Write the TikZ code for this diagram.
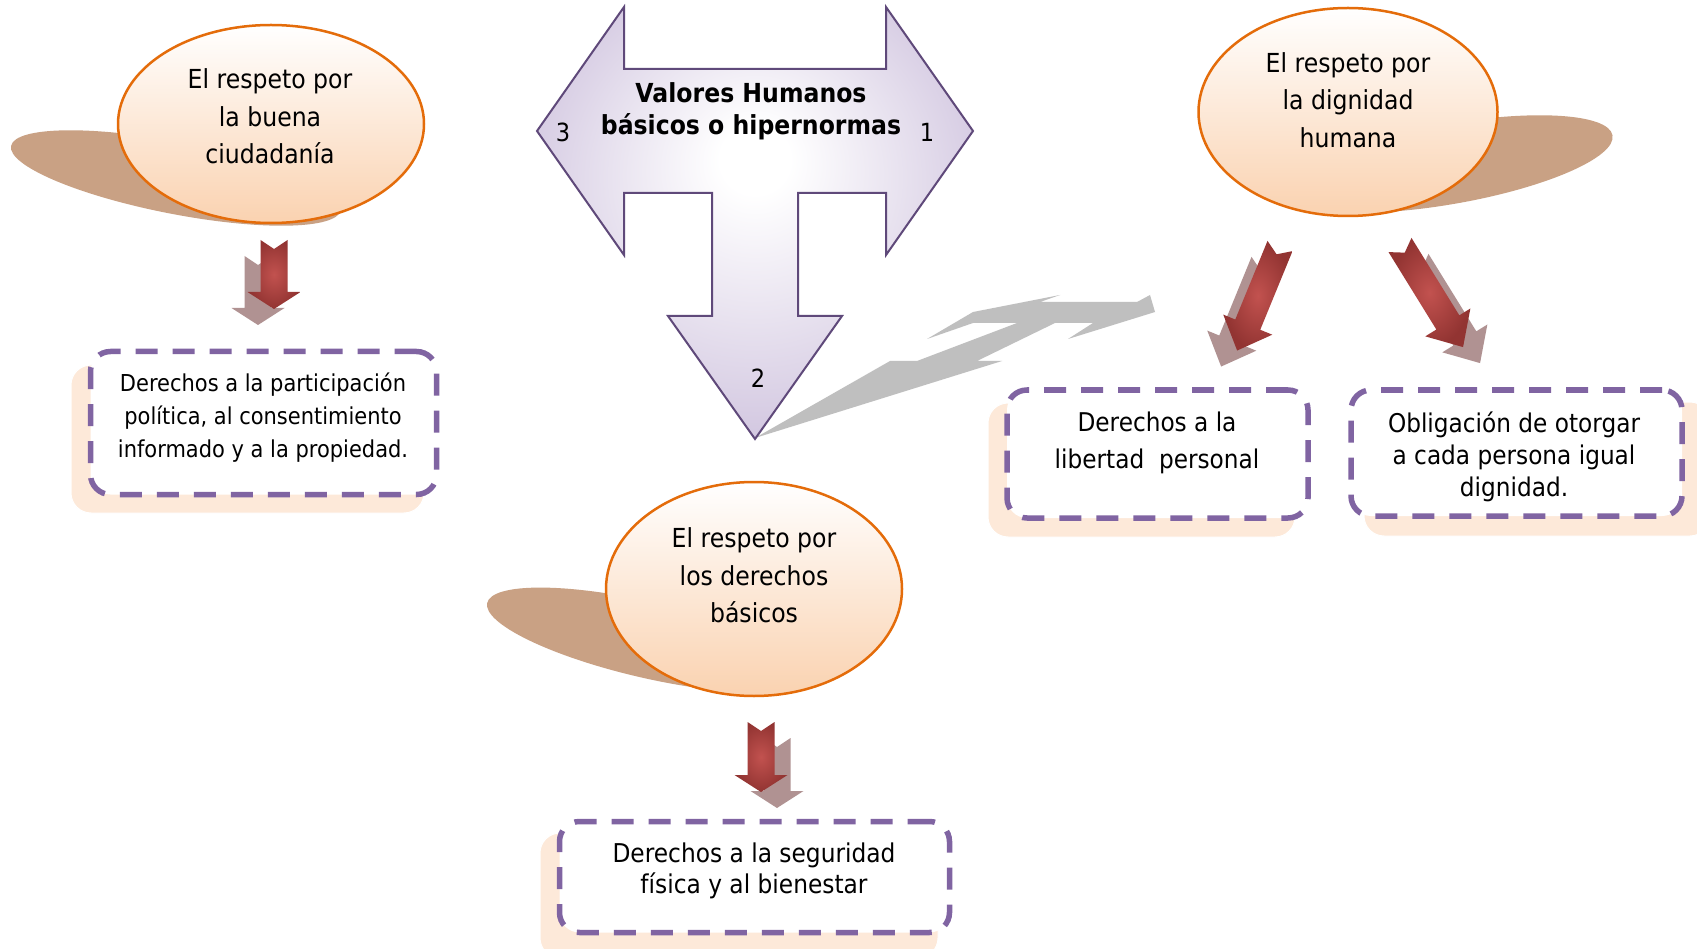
\documentclass[tikz,border=0pt]{standalone}
\usepackage{fontspec}
\setmainfont{DejaVu Sans}[FakeStretch=0.9]
\usetikzlibrary{shapes.geometric}
\definecolor{orangeB}{RGB}{228,108,10}
\definecolor{peach}{RGB}{250,210,176}
\definecolor{shbrown}{RGB}{201,161,132}
\definecolor{purpleD}{RGB}{128,100,162}
\definecolor{boxsh}{RGB}{253,233,217}
\definecolor{tborder}{RGB}{95,73,122}
\definecolor{lav}{RGB}{204,191,220}
\definecolor{redL}{RGB}{194,82,79}
\definecolor{redD}{RGB}{146,52,50}
\definecolor{redsh}{RGB}{176,146,146}
\definecolor{bolt}{RGB}{191,191,191}
\pgfdeclareradialshading{tshade}{\pgfpoint{0bp}{8bp}}{color(0bp)=(white); color(4bp)=(white); color(32bp)=(lav); color(50bp)=(lav)}
% #1 x, #2 y (tail centre), #3 angle, #4 length, #5 head length, #6 style
\newcommand{\redarr}[6]{%
  \begin{scope}[shift={(#1,#2)}, rotate=#3]
    \path[#6] (0,-13.5) -- ({#4-#5},-13.5) -- ({#4-#5},-26.5) -- (#4,0) -- ({#4-#5},26.5) -- ({#4-#5},13.5) -- (0,13.5) -- (9,0) -- cycle;
  \end{scope}}
\begin{document}
\begin{tikzpicture}[x=1pt,y=-1pt,
  ell/.style={ellipse, draw=orangeB, line width=2.5pt, top color=white, bottom color=peach, inner sep=0pt},
  etext/.style={align=center, inner sep=0pt, font=\fontsize{26.2}{37.5}\selectfont},
  dbox/.style={draw=purpleD, fill=white, line width=5.5pt, dash pattern=on 22pt off 15pt, rounded corners=20pt, inner sep=0pt},
  bsh/.style={fill=boxsh, draw=white, line width=1pt, rounded corners=20pt},
  shad/.style={fill=shbrown},
  arrsh/.style={fill=redsh},
  arrmain/.style={inner color=redL, outer color=redD},
  num/.style={inner sep=0pt, font=\fontsize{25}{30}\selectfont}]
\useasboundingbox (0,0) rectangle (1697,949);
\fill[white] (0,0) rectangle (1697,949);

% ---- ellipse shadows
\fill[shad, rotate around={-11:(176,178)}] (176,178) ellipse [x radius=168pt, y radius=36pt];
\fill[shad, rotate around={10:(1450,164)}] (1450,164) ellipse [x radius=165pt, y radius=40pt];
\fill[shad, rotate around={-13:(648,640)}] (648,640) ellipse [x radius=165pt, y radius=38pt];

% ---- ellipses
\node[ell, minimum width=306pt, minimum height=198pt] (e1) at (271,124) {};
\node[ell, minimum width=299pt, minimum height=208pt] (e2) at (1348,112) {};
\node[ell, minimum width=296pt, minimum height=214pt] (e3) at (754,589) {};
\node[etext] (t1) at (270,116.5) {El respeto por\\la buena\\ciudadanía};
\node[etext] (t2) at (1348,100) {El respeto por\\la dignidad\\humana};
\node[etext] (t3) at (754,575.5) {El respeto por\\los derechos\\básicos};

% ---- lightning shadow
\fill[bolt] (755,438) -- (890,361) -- (917,361) -- (1017,323) -- (973,323) -- (927,339) -- (973,312) -- (1060,295) -- (1040,302) -- (1137,302) -- (1150,295) -- (1155,312) -- (1068,339) -- (1093,323) -- (1055,323) -- (977,361) -- (1002,361) -- cycle;

% ---- T arrow
\shadedraw[shading=tshade, draw=tborder, line width=2pt, line join=miter]
  (537,131) -- (624,7) -- (624,69) -- (886,69) -- (886,7) -- (973,131) -- (886,255) -- (886,193) -- (798,193) -- (798,316) -- (842,316) -- (755,439) -- (668,316) -- (712,316) -- (712,193) -- (624,193) -- (624,255) -- cycle;
\node[align=center, inner sep=0pt, font=\bfseries\fontsize{26.2}{32}\selectfont] (title) at (751,111) {Valores Humanos\\básicos o hipernormas};
\node[num] (n3) at (563,132) {3};
\node[num] (n1) at (927,132) {1};
\node[num] (n2) at (758,378) {2};

% ---- red block arrows
\redarr{258}{256}{-90}{69}{17}{arrsh}
\redarr{274}{240}{-90}{69}{17}{arrmain}
\redarr{777}{738}{-90}{70}{17}{arrsh}
\redarr{761}{722}{-90}{70}{17}{arrmain}
\redarr{1264}{262}{-112.3}{113}{28}{arrsh}
\redarr{1280}{246}{-112.3}{113}{28}{arrmain}
\redarr{1417}{261}{-58.3}{120}{29}{arrsh}
\redarr{1400}{245}{-58.3}{120}{29}{arrmain}

% ---- box shadows
\fill[bsh] (71,365) rectangle (424,513);
\fill[bsh] (540,833) rectangle (938,958);
\fill[bsh] (988,403) rectangle (1295,537);
\fill[bsh] (1364,402) rectangle (1710,536);

% ---- dashed boxes
\node[dbox, minimum width=346pt, minimum height=143pt] (b1) at (263.5,423) {};
\node[dbox, minimum width=390pt, minimum height=111pt] (b2) at (754.5,877) {};
\node[dbox, minimum width=301pt, minimum height=128pt] (b3) at (1157.5,454) {};
\node[dbox, minimum width=331pt, minimum height=126pt] (b4) at (1516.5,453) {};

\node[align=center, inner sep=0pt, font=\fontsize{23.3}{33}\selectfont] (bt1) at (263,417.5) {Derechos a la participación\\política, al consentimiento\\informado y a la propiedad.};
\node[align=center, inner sep=0pt, font=\fontsize{25.9}{31.5}\selectfont] (bt2) at (754,871) {Derechos a la seguridad\\física y al bienestar};
\node[align=center, inner sep=0pt, font=\fontsize{25.8}{37}\selectfont] (bt3) at (1157,443) {Derechos a la\\libertad\ \ personal};
\node[align=center, inner sep=0pt, font=\fontsize{25.8}{32}\selectfont] (bt4) at (1514,457) {Obligación de otorgar\\a cada persona igual\\dignidad.};
\end{tikzpicture}
\end{document}
